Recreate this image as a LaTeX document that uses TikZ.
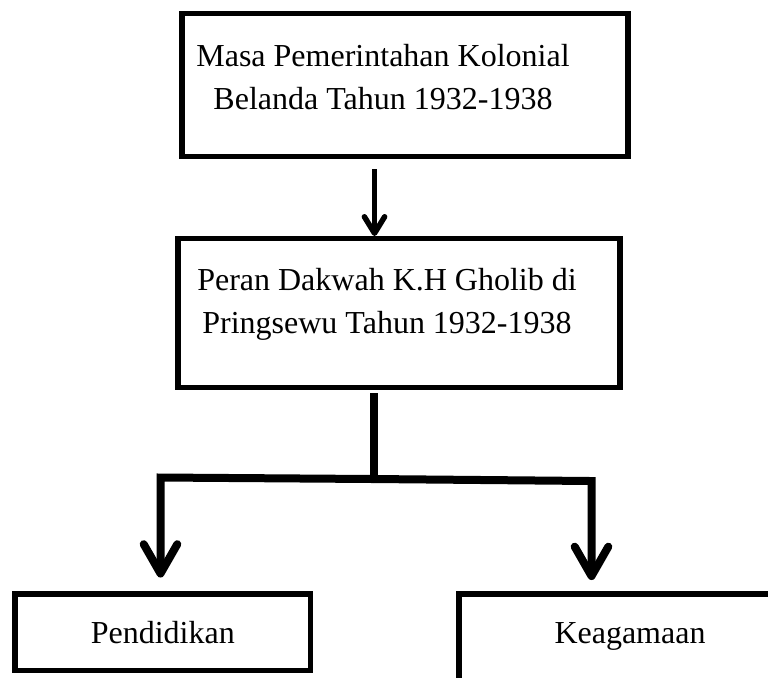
\documentclass[tikz,border=0pt]{standalone}
\usepackage{fontspec}
\setmainfont{Liberation Serif}
\usetikzlibrary{arrows.meta}

\begin{document}
\begin{tikzpicture}[
    x=0.375pt, y=-0.375pt,
    box/.style={draw=black, line width=2.05pt, rectangle, inner sep=0pt,
       font=\fontsize{12}{16}\selectfont},
    boxtext/.style={font=\fontsize{12}{16}\selectfont, align=center, inner sep=0pt},
    link/.style={line width=2.05pt, -{Straight Barb[length=6.2pt, width=7.6pt, round]}},
    stem/.style={line width=3pt},
    branch/.style={line width=3pt, line join=miter,
       -{Straight Barb[length=11pt, width=12.6pt, round]}}
  ]
    \useasboundingbox (0,0) rectangle (768,677);
    \clip (0,0) rectangle (768,677);

    % Boxes
    \node[box, minimum width=167.4pt, minimum height=53.8pt] (kolonial) at (405,85) {};
    \node[box, minimum width=165.9pt, minimum height=55.7pt] (peran) at (399,313) {};
    \node[box, minimum width=110.8pt, minimum height=28.7pt] (pendidikan) at (162.75,632.25) {Pendidikan};
    \node[box, minimum width=128.25pt, minimum height=39.75pt] (keagamaan) at (630,647) {};

    % Box texts
    \node[boxtext, anchor=north] (kolonialtext) at (383,44)
      {Masa Pemerintahan Kolonial\\Belanda Tahun 1932-1938};
    \node[boxtext, anchor=north] (perantext) at (387,268)
      {Peran Dakwah K.H Gholib di\\Pringsewu Tahun 1932-1938};
    \node[boxtext, anchor=base] (keagamaantext) at (630,643) {Keagamaan};

    % Arrow between the two upper boxes
    \coordinate (linktop) at (374.5,169);
    \draw[link] (linktop) -- (linktop |- peran.north);

    % Branching to the two lower boxes
    \coordinate (hub) at (374,479);
    \coordinate (lbend) at (160.5,477.5);
    \coordinate (ltip) at (160.5,577.5);
    \coordinate (rbend) at (591.5,481);
    \coordinate (rtip) at (591.5,580);
    \draw[stem, shorten <=1.2pt] (hub |- peran.south) -- (hub);
    \draw[branch] (hub) -- (lbend) -- (ltip);
    \draw[branch] (hub) -- (rbend) -- (rtip);
  \end{tikzpicture}
\end{document}
